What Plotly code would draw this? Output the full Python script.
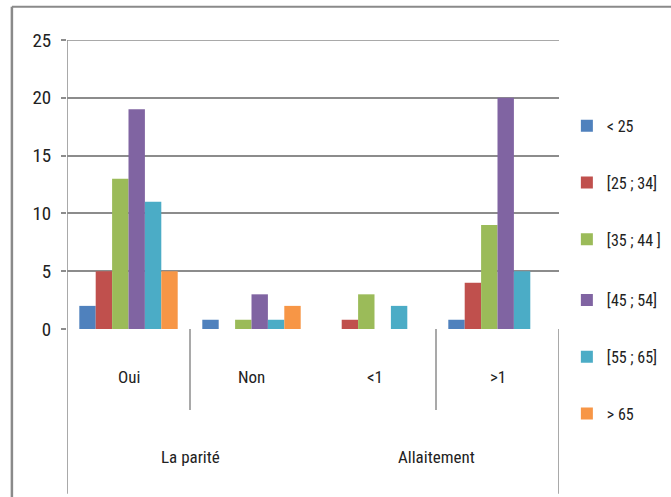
import plotly.graph_objects as go

# Categories (first level) and their parent groups (second level)
categories = ["Oui", "Non", "<1", ">1"]
groups = ["La parité", "Allaitement"]
group_members = [["Oui", "Non"], ["<1", ">1"]]

# Age classes and counts per category
series_names = ["< 25", "[25 ; 34]", "[35 ; 44 ]", "[45 ; 54]", "[55 ; 65]", "> 65"]
lt25 = [2, 0.8, 0, 0.8]
a25_34 = [5, 0, 0.8, 4]
a35_44 = [13, 0.8, 3, 9]
a45_54 = [19, 3, 0, 20]
a55_65 = [11, 0.8, 2, 5]
gt65 = [5, 2, 0, 0]
series_values = [lt25, a25_34, a35_44, a45_54, a55_65, gt65]

y_ticks = [0, 5, 10, 15, 20, 25]

colors = ["#4F81BD", "#C0504D", "#9BBB59", "#8064A2", "#4BACC6", "#F79646"]
FONT = "Liberation Sans Narrow, Arial Narrow, Roboto Condensed, Roboto, sans-serif"
AXIS_GREY = "#8c8c8c"

fig = go.Figure()
for i, (name, vals) in enumerate(zip(series_names, series_values)):
    fig.add_trace(go.Bar(
        x=categories, y=vals, name=name,
        marker=dict(color=colors[i], line=dict(width=0)),
        legendgroup=name,
        # the key is split over two stacked legend boxes
        legend="legend" if i < 3 else "legend2",
    ))

# Category labels under the axis
annotations = []
for c in categories:
    annotations.append(dict(x=c, xref="x", y=0, yref="paper", yshift=-60,
                            text=c, showarrow=False,
                            font=dict(family=FONT, size=17, color="#222")))
# Group labels centred between their member categories
for g, members in zip(groups, group_members):
    xc = (categories.index(members[0]) + categories.index(members[-1])) / 2
    annotations.append(dict(x=xc, xref="x", y=0, yref="paper", yshift=-140,
                            text=g, showarrow=False,
                            font=dict(family=FONT, size=17, color="#222")))

# Separator lines of the two-level category axis
shapes = []
n = len(categories)
line_style = dict(color=AXIS_GREY, width=1.5)
shapes.append(dict(type="line", xref="x", yref="paper", x0=-0.5, x1=-0.5,
                   y0=1, y1=-0.57, line=line_style))
shapes.append(dict(type="line", xref="x", yref="paper", x0=n - 0.5, x1=n - 0.5,
                   y0=0, y1=-0.57, line=line_style))
for members in group_members:
    k = categories.index(members[0])
    shapes.append(dict(type="line", xref="x", yref="paper", x0=k + 0.5, x1=k + 0.5,
                       y0=0, y1=-0.28, line=line_style))
# Top gridline at the last tick value
shapes.append(dict(type="line", xref="paper", yref="y", x0=0, x1=1,
                   y0=y_ticks[-1], y1=y_ticks[-1], line=line_style))
# Chart-area border (left and top edges)
shapes.append(dict(type="line", xref="paper", yref="paper", x0=-0.112, x1=1.3,
                   y0=1.115, y1=1.115, line=dict(color="#8a8a8a", width=2)))
shapes.append(dict(type="line", xref="paper", yref="paper", x0=-0.112, x1=-0.112,
                   y0=1.115, y1=-0.6, line=dict(color="#8a8a8a", width=2.5)))

legend_common = dict(x=1.016, xanchor="left", yanchor="top",
                     font=dict(family=FONT, size=16, color="#222"),
                     tracegroupgap=33, itemwidth=30, bgcolor="rgba(0,0,0,0)")

fig.update_layout(
    width=671, height=497,
    margin=dict(l=67, r=112, t=40, b=168, autoexpand=False),
    paper_bgcolor="white", plot_bgcolor="white",
    barmode="group", bargap=0.2, bargroupgap=0,
    font=dict(family=FONT, size=17, color="#222"),
    showlegend=True,
    legend=dict(y=0.762, **legend_common),
    legend2=dict(y=0.159, **legend_common),
    xaxis=dict(type="category", categoryorder="array", categoryarray=categories,
               showticklabels=False, showgrid=False, zeroline=False,
               showline=False, ticks="", range=[-0.5, n - 0.5]),
    yaxis=dict(range=[0, 25], tickvals=y_ticks, showgrid=True,
               gridcolor=AXIS_GREY, gridwidth=1.5, zeroline=False,
               showline=False, ticks="outside", ticklen=5, tickcolor=AXIS_GREY,
               tickwidth=1.5, ticklabelstandoff=6,
               tickfont=dict(family=FONT, size=19, color="#222")),
    annotations=annotations, shapes=shapes,
)

fig.write_html("out.html")
